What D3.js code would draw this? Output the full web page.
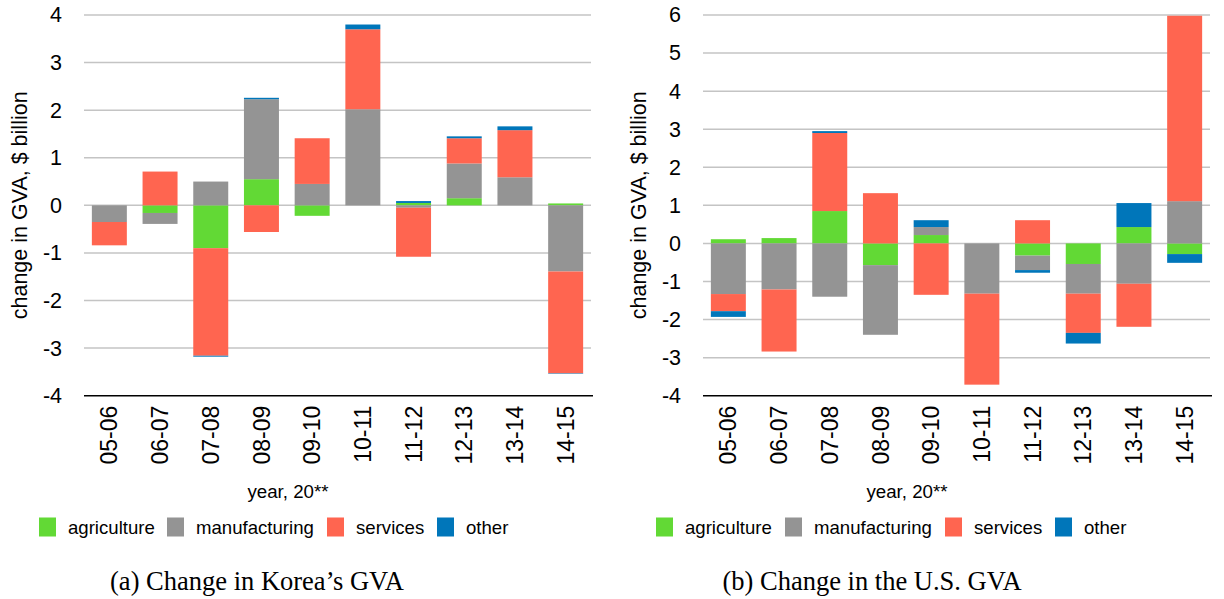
<!DOCTYPE html>
<html>
<head>
<meta charset="utf-8">
<script src="https://cdn.jsdelivr.net/npm/d3@7"></script>
<style>
  body { margin: 0; background: #fff; }
  svg text { font-family: "Liberation Sans", Arial, sans-serif; fill: #000; }
  svg text.caption { font-family: "Liberation Serif", "Times New Roman", serif; }
</style>
</head>
<body>
<svg id="chart" width="1224" height="599"></svg>
<script>
// ---------- data ----------
var periods = ["05-06","06-07","07-08","08-09","09-10","10-11","11-12","12-13","13-14","14-15"];
var sectors = ["agriculture","manufacturing","services","other"];
var sectorColors = ["#62d935","#949494","#ff6550","#0076ba"];

// Korea, $ billion
var korAgri  = [0.00, -0.16, -0.90, 0.55, -0.22, 0.00, 0.05, 0.15, 0.00, 0.04];
var korManu  = [-0.35, -0.23, 0.50, 1.68, 0.45, 2.02, -0.05, 0.73, 0.59, -1.39];
var korServ  = [-0.49, 0.71, -2.26, -0.56, 0.96, 1.68, -1.03, 0.53, 0.99, -2.14];
var korOther = [0.00, 0.00, -0.02, 0.03, 0.00, 0.10, 0.04, 0.04, 0.08, -0.01];
var korTicks = [-4,-3,-2,-1,0,1,2,3,4];

// U.S., $ billion
var usAgri  = [0.11, 0.14, 0.85, -0.57, 0.22, 0.00, -0.32, -0.54, 0.43, -0.28];
var usManu  = [-1.33, -1.21, -1.40, -1.83, 0.21, -1.32, -0.38, -0.78, -1.06, 1.11];
var usServ  = [-0.45, -1.63, 2.05, 1.32, -1.35, -2.39, 0.61, -1.03, -1.13, 4.87];
var usOther = [-0.15, 0.00, 0.05, 0.00, 0.18, 0.00, -0.07, -0.28, 0.63, -0.23];
var usTicks = [-4,-3,-2,-1,0,1,2,3,4,5,6];

var svg = d3.select("#chart");

function buildRows(agri, manu, serv, other) {
  return periods.map(function(p, i) {
    return { period: p, agriculture: agri[i], manufacturing: manu[i], services: serv[i], other: other[i] };
  });
}

var drawPanel = function(opt)
{
  var g = svg.append("g");
  var xScale = d3.scaleBand()
    .domain(periods)
    .range([opt.left, opt.right])
    .paddingInner(0.31)
    .paddingOuter(0.155);
  var yScale = d3.scaleLinear()
    .domain([d3.min(opt.ticks), d3.max(opt.ticks)])
    .range([opt.bottom, opt.top]);

  // gridlines
  g.append("g").selectAll("line")
    .data(opt.ticks.filter(function(t) { return t != d3.min(opt.ticks); }))
    .enter()
    .append("line")
    .attr("x1", opt.left)
    .attr("x2", opt.right)
    .attr("y1", function(d) { return yScale(d); })
    .attr("y2", function(d) { return yScale(d); })
    .attr("stroke", "#c4c4c4")
    .attr("stroke-width", 1.5);

  // stacked bars (positive and negative stacked separately)
  var stack = d3.stack().keys(sectors).offset(d3.stackOffsetDiverging);
  var layers = stack(opt.rows);
  var colors = d3.scaleOrdinal().domain(sectors).range(sectorColors);

  g.append("g").selectAll("g")
    .data(layers)
    .enter()
    .append("g")
    .attr("fill", function(d) { return colors(d.key); })
    .selectAll("rect")
    .data(function(d) { return d; })
    .enter()
    .append("rect")
    .attr("x", function(d) { return xScale(d.data.period); })
    .attr("width", xScale.bandwidth())
    .attr("y", function(d) { return yScale(Math.max(d[0], d[1])); })
    .attr("height", function(d) { return Math.abs(yScale(d[0]) - yScale(d[1])); });

  // bottom axis line
  g.append("line")
    .attr("x1", opt.left)
    .attr("x2", opt.right + 2)
    .attr("y1", opt.bottom)
    .attr("y2", opt.bottom)
    .attr("stroke", "#000")
    .attr("stroke-width", 1.5);

  // y tick labels
  var yAxis = d3.axisLeft(yScale).tickValues(opt.ticks).tickSize(0).tickPadding(22)
    .tickFormat(function(d) { return d; });
  var ya = g.append("g")
    .attr("transform", "translate(" + opt.left + ",0)")
    .call(yAxis);
  ya.select(".domain").remove();
  ya.selectAll("text").style("font-size", "21.5px").attr("font-family", null);

  // x tick labels (rotated)
  var xAxis = d3.axisBottom(xScale).tickSize(0).tickPadding(0);
  var xa = g.append("g")
    .attr("transform", "translate(0," + opt.bottom + ")")
    .call(xAxis);
  xa.select(".domain").remove();
  xa.selectAll("text")
    .style("font-size", "23px")
    .attr("font-family", null)
    .attr("text-anchor", "end")
    .attr("transform", "rotate(-90)")
    .attr("x", -10)
    .attr("y", 0)
    .attr("dy", "0.35em");

  // axis titles
  g.append("text")
    .attr("transform", "translate(" + opt.titleX + "," + (opt.top + opt.bottom) / 2 + ") rotate(-90)")
    .attr("text-anchor", "middle")
    .attr("dy", "0.35em")
    .style("font-size", "21.5px")
    .text("change in GVA, $ billion");

  g.append("text")
    .attr("x", opt.xTitleX)
    .attr("y", 498)
    .attr("text-anchor", "middle")
    .style("font-size", "18.7px")
    .text("year, 20**");

  // legend
  var legend = g.append("g");
  sectors.forEach(function(s, i) {
    legend.append("rect")
      .attr("x", opt.legendX[i])
      .attr("y", 517.5)
      .attr("width", 17)
      .attr("height", 19)
      .attr("fill", colors(s));
    legend.append("text")
      .attr("x", opt.legendX[i] + 29)
      .attr("y", 527)
      .attr("dy", "0.35em")
      .style("font-size", "18.6px")
      .text(s);
  });

  // caption
  g.append("text")
    .attr("class", "caption")
    .attr("x", opt.captionX)
    .attr("y", 590)
    .attr("text-anchor", "middle")
    .style("font-size", "26.5px")
    .text(opt.caption);
};

drawPanel({
  rows: buildRows(korAgri, korManu, korServ, korOther),
  ticks: korTicks,
  left: 84, right: 591, top: 15, bottom: 395.7,
  titleX: 19, xTitleX: 288,
  legendX: [39, 167, 327, 437],
  captionX: 257,
  caption: "(a) Change in Korea\u2019s GVA"
});

drawPanel({
  rows: buildRows(usAgri, usManu, usServ, usOther),
  ticks: usTicks,
  left: 703, right: 1210, top: 15, bottom: 395.7,
  titleX: 638, xTitleX: 907,
  legendX: [656, 785, 945, 1055],
  captionX: 872,
  caption: "(b) Change in the U.S. GVA"
});
</script>
</body>
</html>
